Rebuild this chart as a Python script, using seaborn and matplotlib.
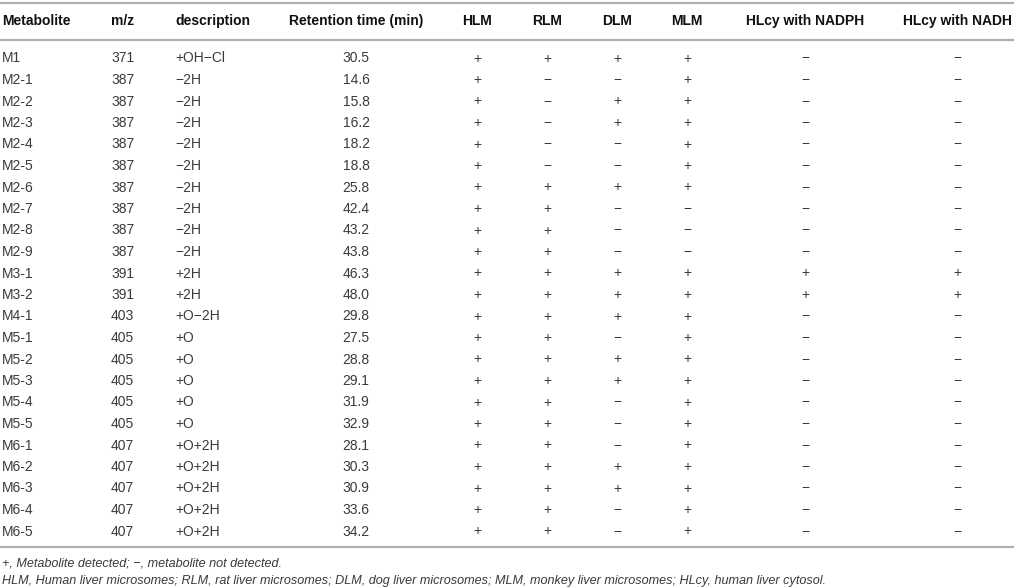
import numpy as np
import pandas as pd
import seaborn as sns
import matplotlib.pyplot as plt

# Table content
metabolites = ["M1", "M2-1", "M2-2", "M2-3", "M2-4", "M2-5", "M2-6", "M2-7", "M2-8", "M2-9",
               "M3-1", "M3-2", "M4-1", "M5-1", "M5-2", "M5-3", "M5-4", "M5-5",
               "M6-1", "M6-2", "M6-3", "M6-4", "M6-5"]
mz = [371, 387, 387, 387, 387, 387, 387, 387, 387, 387,
      391, 391, 403, 405, 405, 405, 405, 405, 407, 407, 407, 407, 407]
description = ["+OH\u2212Cl"] + ["\u22122H"] * 9 + ["+2H"] * 2 + ["+O\u22122H"] + ["+O"] * 5 + ["+O+2H"] * 5
retention = [30.5, 14.6, 15.8, 16.2, 18.2, 18.8, 25.8, 42.4, 43.2, 43.8,
             46.3, 48.0, 29.8, 27.5, 28.8, 29.1, 31.9, 32.9, 28.1, 30.3, 30.9, 33.6, 34.2]
# 1 = detected, 0 = not detected
hlm = [1] * 23
rlm = [1, 0, 0, 0, 0, 0] + [1] * 17
dlm = [1, 0, 1, 1, 0, 0, 1, 0, 0, 0, 1, 1, 1, 0, 1, 1, 0, 0, 0, 1, 1, 0, 0]
mlm = [1] * 7 + [0, 0, 0] + [1] * 13
hlcy_nadph = [0] * 10 + [1, 1] + [0] * 11
hlcy_nadh = [0] * 10 + [1, 1] + [0] * 11

headers = ["Metabolite", "m/z", "description", "Retention time (min)", "HLM", "RLM",
           "DLM", "MLM", "HLcy with NADPH", "HLcy with NADH"]
footnotes = ["+, Metabolite detected; \u2212, metabolite not detected.",
             "HLM, Human liver microsomes; RLM, rat liver microsomes; DLM, dog liver microsomes; "
             "MLM, monkey liver microsomes; HLcy, human liver cytosol."]

df = pd.DataFrame({
    "Metabolite": metabolites, "m/z": mz, "description": description,
    "Retention time (min)": retention, "HLM": hlm, "RLM": rlm, "DLM": dlm,
    "MLM": mlm, "HLcy with NADPH": hlcy_nadph, "HLcy with NADH": hlcy_nadh,
})

sns.set_theme(style="white")
plt.rcParams['font.family'] = ['Liberation Sans', 'DejaVu Sans']

fig = plt.figure(figsize=(10.14, 5.88), dpi=100)
ax = fig.add_axes([0, 0, 1, 1])
ax.set_xlim(0, 1014)
ax.set_ylim(588, 0)
ax.axis("off")

# column positions (x, alignment)
col_x = [2, 111, 175, 356, 477, 547, 617, 687, 805, 957]
col_ha = ["left", "left", "left", "center", "center", "center", "center", "center", "center", "center"]

fs = 10
body_color = "#3a3a3a"
rule_color = "#b0b0b0"

# rules
for y in [2.5, 39.5, 547]:
    ax.plot([0, 1014], [y, y], color=rule_color, lw=1.6, solid_capstyle="butt")

# header
for x, ha, h in zip(col_x, col_ha, headers):
    ax.text(x, 21, h, ha=ha, va="center", fontsize=fs, fontweight="bold", color="#111111")

row_y0 = 58.5
row_h = 21.5
for i, row in df.iterrows():
    y = row_y0 + i * row_h
    vals = [row["Metabolite"], str(row["m/z"]), row["description"], f"{row['Retention time (min)']:.1f}"]
    for c in headers[4:]:
        vals.append("+" if row[c] == 1 else "\u2212")
    for j, (x, ha, v) in enumerate(zip(col_x, col_ha, vals)):
        ax.text(x, y, v, ha=ha, va="center", fontsize=fs, color=body_color)

# footnotes
ax.text(2, 563, footnotes[0], ha="left", va="center", fontsize=9.1, style="italic", color=body_color)
ax.text(2, 581, footnotes[1], ha="left", va="center", fontsize=9.1, style="italic", color=body_color)

fig.savefig("out.png", dpi=100)
